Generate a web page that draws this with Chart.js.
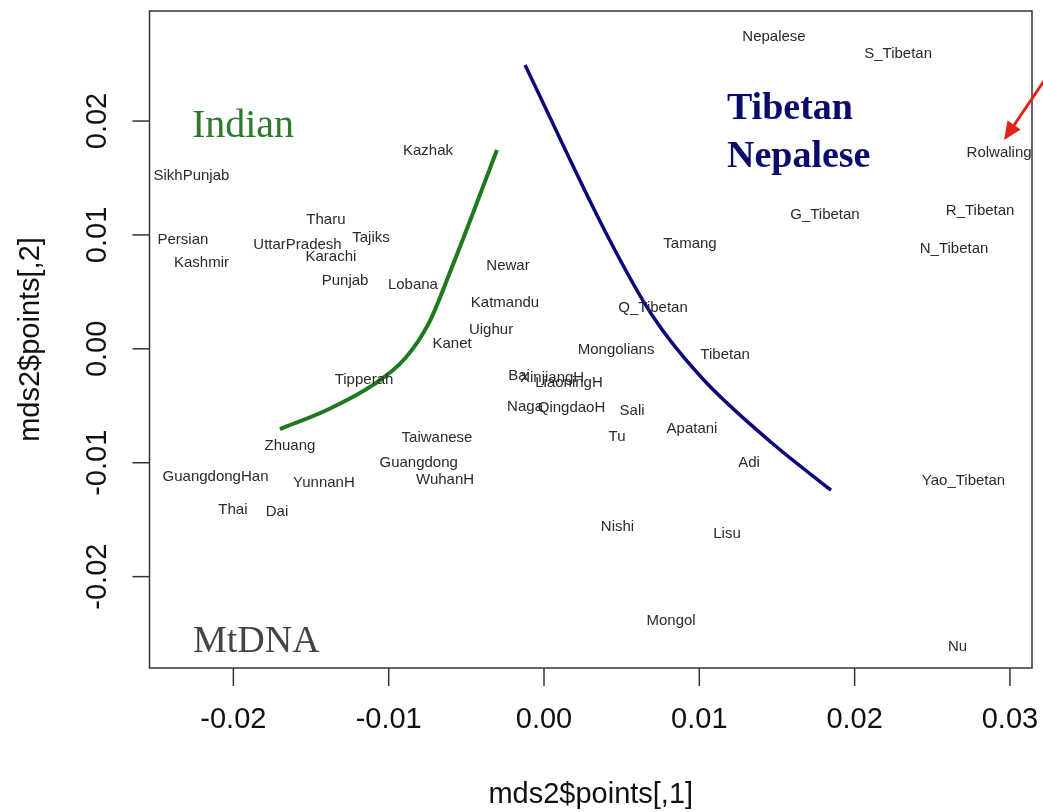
<!DOCTYPE html>
<html>
<head>
<meta charset="utf-8">
<script src="https://cdn.jsdelivr.net/npm/chart.js@4.4.0/dist/chart.umd.min.js"></script>
<style>
  html, body { margin: 0; padding: 0; background: #fff; }
</style>
</head>
<body>
<canvas id="mds" width="1043" height="812"></canvas>
<script>
// population labels and their MDS coordinates
const popNames = ['Nepalese', 'S_Tibetan', 'Rolwaling', 'R_Tibetan', 'G_Tibetan', 'N_Tibetan', 'Tamang',
  'Q_Tibetan', 'Tibetan', 'Mongolians', 'Kazhak', 'SikhPunjab', 'Tharu', 'Tajiks', 'Persian',
  'UttarPradesh', 'Karachi', 'Kashmir', 'Newar', 'Punjab', 'Lobana', 'Katmandu', 'Uighur', 'Kanet',
  'Tipperah', 'Bai', 'XinjiangH', 'LiaoningH', 'Naga', 'QingdaoH', 'Sali', 'Tu', 'Apatani',
  'Taiwanese', 'Zhuang', 'Guangdong', 'Adi', 'WuhanH', 'GuangdongHan', 'YunnanH', 'Yao_Tibetan',
  'Thai', 'Dai', 'Nishi', 'Lisu', 'Mongol', 'Nu'];
const popX = [0.01481, 0.02280, 0.02930, 0.02808, 0.01809, 0.02640, 0.00940,
  0.00702, 0.01166, 0.00464, -0.00747, -0.02270, -0.01404, -0.01114, -0.02325,
  -0.01587, -0.01372, -0.02205, -0.00232, -0.01281, -0.00844, -0.00251, -0.00341, -0.00592,
  -0.01159, -0.00161, 0.00052, 0.00161, -0.00122, 0.00177, 0.00567, 0.00470, 0.00953,
  -0.00689, -0.01636, -0.00807, 0.01320, -0.00637, -0.02115, -0.01417, 0.02701,
  -0.02003, -0.01719, 0.00473, 0.01178, 0.00818, 0.02663];
const popY = [0.02756, 0.02606, 0.01737, 0.01228, 0.01193, 0.00894, 0.00938,
  0.00376, -0.00036, 0.00007, 0.01755, 0.01535, 0.01149, 0.00991, 0.00967,
  0.00929, 0.00824, 0.00771, 0.00745, 0.00613, 0.00578, 0.00414, 0.00183, 0.00060,
  -0.00259, -0.00221, -0.00238, -0.00288, -0.00499, -0.00508, -0.00528, -0.00756, -0.00692,
  -0.00765, -0.00838, -0.00985, -0.00991, -0.01134, -0.01114, -0.01166, -0.01143,
  -0.01397, -0.01415, -0.01553, -0.01608, -0.02372, -0.02606];

// hand drawn boundary curves
const indianX = [-0.01700, -0.01397, -0.01101, -0.00895, -0.00740, -0.00592, -0.00457, -0.00303];
const indianY = [-0.00704, -0.00537, -0.00317, -0.00085, 0.00230, 0.00719, 0.01193, 0.01746];
const tibetX = [-0.00122, 0.00399, 0.00695, 0.01011, 0.01468, 0.01848];
const tibetY = [0.02492, 0.01017, 0.00297, -0.00247, -0.00827, -0.01241];

// axes
const xTicks = [-0.02, -0.01, 0.00, 0.01, 0.02, 0.03];
const yTicks = [-0.02, -0.01, 0.00, 0.01, 0.02];
const xRange = [-0.02540, 0.03142];
const yRange = [-0.02802, 0.02966];

const toPts = (xs, ys) => xs.map((v, i) => ({ x: v, y: ys[i] }));

const popLabels = {
  id: 'popLabels',
  afterDatasetsDraw(chart) {
    const { ctx, chartArea: a } = chart;
    const meta = chart.getDatasetMeta(0);
    ctx.save();
    ctx.beginPath();
    ctx.rect(a.left, a.top, a.width, a.height);
    ctx.clip();
    ctx.font = '15px "Liberation Sans", Arial, sans-serif';
    ctx.fillStyle = '#2a2a2a';
    ctx.textAlign = 'center';
    ctx.textBaseline = 'middle';
    meta.data.forEach((pt, i) => {
      ctx.fillText(popNames[i], pt.x, pt.y + 1.5);
    });
    ctx.restore();
  }
};

const rAxes = {
  id: 'rAxes',
  afterDraw(chart) {
    const { ctx, chartArea: a, scales: { x, y } } = chart;
    ctx.save();
    ctx.strokeStyle = '#333';
    ctx.lineWidth = 1.5;
    ctx.strokeRect(a.left, a.top, a.width, a.height);

    ctx.fillStyle = '#111';
    ctx.font = '29px "Liberation Sans", Arial, sans-serif';
    ctx.textAlign = 'center';
    ctx.textBaseline = 'middle';
    xTicks.forEach(v => {
      const px = x.getPixelForValue(v);
      ctx.beginPath();
      ctx.moveTo(px, a.bottom);
      ctx.lineTo(px, a.bottom + 18);
      ctx.stroke();
      ctx.fillText(v.toFixed(2), px, 720);
    });
    yTicks.forEach(v => {
      const py = y.getPixelForValue(v);
      ctx.beginPath();
      ctx.moveTo(a.left - 17, py);
      ctx.lineTo(a.left, py);
      ctx.stroke();
      ctx.save();
      ctx.translate(98, py);
      ctx.rotate(-Math.PI / 2);
      ctx.fillText(v.toFixed(2), 0, 0);
      ctx.restore();
    });

    ctx.fillText('mds2$points[,1]', (a.left + a.right) / 2, 795);
    ctx.save();
    ctx.translate(31, (a.top + a.bottom) / 2);
    ctx.rotate(-Math.PI / 2);
    ctx.fillText('mds2$points[,2]', 0, 0);
    ctx.restore();

    // text annotations
    ctx.textAlign = 'left';
    ctx.textBaseline = 'alphabetic';
    ctx.fillStyle = '#2d7a2d';
    ctx.font = '40px "Liberation Serif", serif';
    ctx.fillText('Indian', x.getPixelForValue(-0.02267), y.getPixelForValue(0.0186));
    ctx.fillStyle = '#0b0b6e';
    ctx.font = 'bold 38px "Liberation Serif", serif';
    ctx.fillText('Tibetan', x.getPixelForValue(0.01178), y.getPixelForValue(0.02018));
    ctx.fillText('Nepalese', x.getPixelForValue(0.01178), y.getPixelForValue(0.01597));
    ctx.fillStyle = '#444';
    ctx.font = '38px "Liberation Serif", serif';
    ctx.fillText('MtDNA', x.getPixelForValue(-0.0226), y.getPixelForValue(-0.02662));

    // red arrow pointing at Rolwaling
    const x0 = x.getPixelForValue(0.03258), y0 = y.getPixelForValue(0.02431);
    const x1 = x.getPixelForValue(0.02962), y1 = y.getPixelForValue(0.01834);
    const ang = Math.atan2(y1 - y0, x1 - x0);
    ctx.strokeStyle = '#e2231a';
    ctx.fillStyle = '#e2231a';
    ctx.lineWidth = 3;
    ctx.beginPath();
    ctx.moveTo(x0, y0);
    ctx.lineTo(x1 - 12 * Math.cos(ang), y1 - 12 * Math.sin(ang));
    ctx.stroke();
    ctx.beginPath();
    ctx.moveTo(x1, y1);
    ctx.lineTo(x1 - 18 * Math.cos(ang) + 8 * Math.sin(ang), y1 - 18 * Math.sin(ang) - 8 * Math.cos(ang));
    ctx.lineTo(x1 - 18 * Math.cos(ang) - 8 * Math.sin(ang), y1 - 18 * Math.sin(ang) + 8 * Math.cos(ang));
    ctx.closePath();
    ctx.fill();
    ctx.restore();
  }
};

new Chart(document.getElementById('mds'), {
  type: 'scatter',
  data: {
    datasets: [
      {
        label: 'populations',
        data: toPts(popX, popY),
        pointRadius: 0,
        showLine: false
      },
      {
        label: 'Indian',
        data: toPts(indianX, indianY),
        showLine: true,
        borderColor: '#1f7a1f',
        borderWidth: 4,
        pointRadius: 0,
        cubicInterpolationMode: 'monotone'
      },
      {
        label: 'Tibetan',
        data: toPts(tibetX, tibetY),
        showLine: true,
        borderColor: '#0a0a78',
        borderWidth: 3.5,
        pointRadius: 0,
        cubicInterpolationMode: 'monotone'
      }
    ]
  },
  options: {
    responsive: false,
    animation: false,
    layout: { padding: { left: 149.5, right: 11, top: 11, bottom: 144 } },
    plugins: { legend: { display: false }, tooltip: { enabled: false } },
    scales: {
      x: { type: 'linear', min: xRange[0], max: xRange[1], display: false },
      y: { type: 'linear', min: yRange[0], max: yRange[1], display: false }
    }
  },
  plugins: [popLabels, rAxes]
});
</script>
</body>
</html>
